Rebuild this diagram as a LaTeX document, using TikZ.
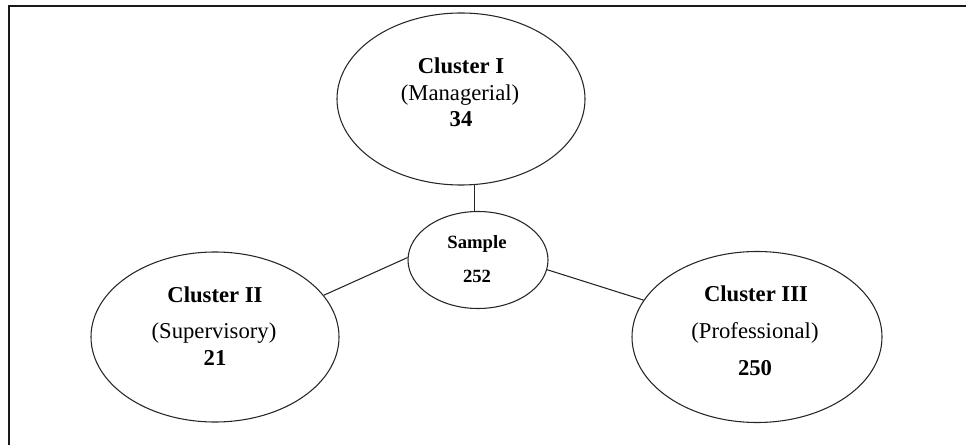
\documentclass[tikz,border=0pt]{standalone}
\usepackage{fontspec}
\setmainfont{Liberation Serif}
\usetikzlibrary{shapes.geometric}
\tikzset{
  clus/.style={draw=black!85, line width=0.8pt, ellipse, inner sep=0pt},
  tbig/.style={anchor=base, inner sep=0pt, font=\fontsize{17}{20}\selectfont},
  tsmall/.style={anchor=base, inner sep=0pt, font=\fontsize{14}{17}\selectfont\bfseries},
  link/.style={draw=black!85, line width=0.8pt}
}
\begin{document}
\begin{tikzpicture}[x=0.75pt,y=-0.75pt]
\useasboundingbox (0,0) rectangle (966,445);
% frame (cropped)
\draw[line width=1.5pt, black!90] (966,6) -- (9,6) -- (9,445);
% ellipses
\node[clus, minimum width=186pt, minimum height=129pt] (c1) at (461,99) {};
\node[clus, minimum width=105pt, minimum height=72.75pt] (s) at (478,260) {};
\node[clus, minimum width=186pt, minimum height=127.5pt] (c2) at (215,337) {};
\node[clus, minimum width=187.5pt, minimum height=128.25pt] (c3) at (757,337) {};
% connectors
\coordinate (t1) at (c1.-81);
\draw[link] (t1) -- (t1 |- s.north);
\draw[link] (s.178) -- (c2.21);
\draw[link] (s.-8) -- (c3.162);
% texts
\node[tbig, font=\fontsize{17}{20}\selectfont\bfseries] (c1a) at (461,74) {Cluster I};
\node[tbig] (c1b) at (460,101) {(Managerial)};
\node[tbig, font=\fontsize{17}{20}\selectfont\bfseries] (c1c) at (461,127) {34};
\node[tbig, font=\fontsize{17}{20}\selectfont\bfseries] (c2a) at (215,302) {Cluster II};
\node[tbig] (c2b) at (214,338) {(Supervisory)};
\node[tbig, font=\fontsize{17}{20}\selectfont\bfseries] (c2c) at (215,365) {21};
\node[tbig, font=\fontsize{17}{20}\selectfont\bfseries] (c3a) at (756,301) {Cluster III};
\node[tbig] (c3b) at (755,338) {(Professional)};
\node[tbig, font=\fontsize{17}{20}\selectfont\bfseries] (c3c) at (755,375) {250};
\node[tsmall] (sa) at (477,248) {Sample};
\node[tsmall] (sb) at (477,282) {252};
\end{tikzpicture}
\end{document}
